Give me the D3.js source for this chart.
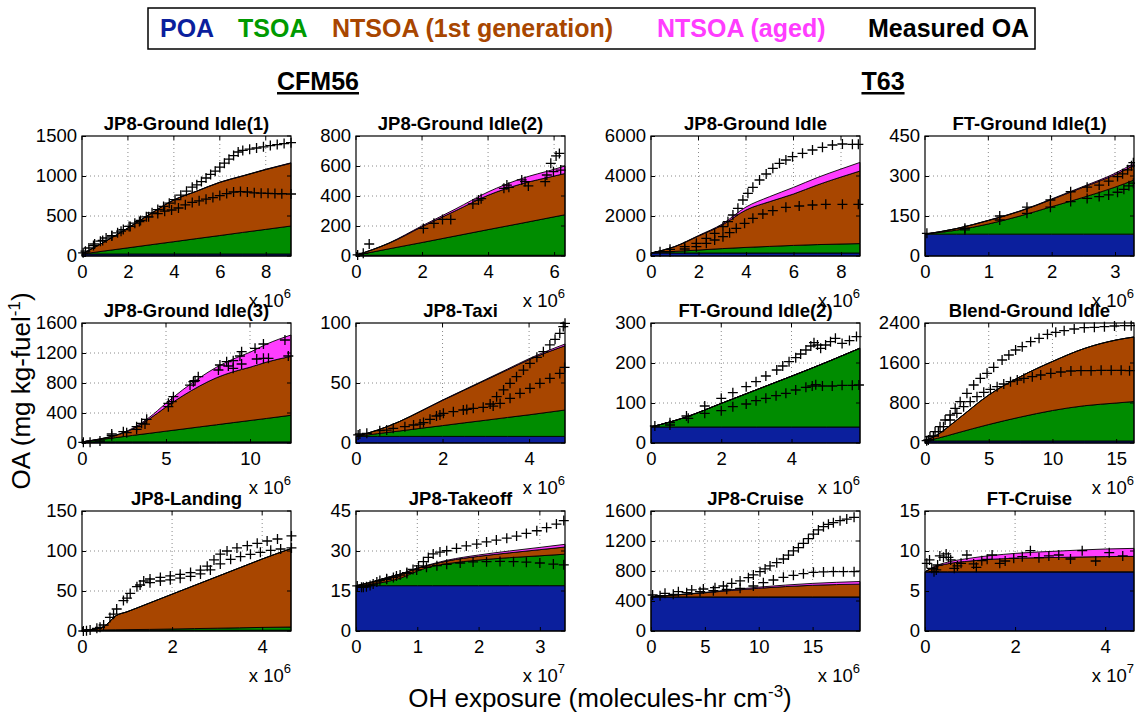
<!DOCTYPE html>
<html><head><meta charset="utf-8">
<script src="https://cdn.jsdelivr.net/npm/d3@7"></script>
<style>body{margin:0;background:#fff} svg{display:block} text{font-family:"Liberation Sans",Arial,Helvetica,sans-serif}</style>
</head><body><svg id="c" width="1135" height="713"></svg>
<script>
// ---------- panel meta ----------
const titles = ["JP8-Ground Idle(1)","JP8-Ground Idle(2)","JP8-Ground Idle","FT-Ground Idle(1)",
  "JP8-Ground Idle(3)","JP8-Taxi","FT-Ground Idle(2)","Blend-Ground Idle",
  "JP8-Landing","JP8-Takeoff","JP8-Cruise","FT-Cruise"];
const xMax = [9.1,6.33,8.8,3.3, 12.44,4.83,5.95,16.4, 4.64,3.41,19.4,4.64];
const xExp = [6,6,6,6, 6,6,6,6, 6,7,6,7];
const xTicks = [[0,2,4,6,8],[0,2,4,6],[0,2,4,6,8],[0,1,2,3],
  [0,5,10],[0,2,4],[0,2,4],[0,5,10,15],
  [0,2,4],[0,1,2,3],[0,5,10,15],[0,2,4]];
const yTicks = [[0,500,1000,1500],[0,200,400,600,800],[0,2000,4000,6000],[0,150,300,450],
  [0,400,800,1200,1600],[0,50,100],[0,100,200,300],[0,800,1600,2400],
  [0,50,100,150],[0,15,30,45],[0,400,800,1200,1600],[0,5,10,15]];
const legendLabels = ["POA","TSOA","NTSOA (1st generation)","NTSOA (aged)","Measured OA"];
const groupLabels = ["CFM56","T63"];

// ---------- modelled layers (thickness of each layer) ----------
const layerX = [
  [0,1,2,3,4,5,6,7,8,9.1],
  [0,1,2,3,4,5,6,6.33],
  [0,1,2,3,4,5,6,7,8,8.8],
  [0,0.5,1,1.5,2,2.5,3,3.3],
  [0,1,2,3,4,5,6,7,8,9,10,11,12.44],
  [0,0.5,1,1.5,2,2.5,3,3.5,4,4.83],
  [0,1,2,3,4,5,5.95],
  [0,1,2.5,5,7.5,10,12.5,15,16.4],
  [0,0.25,0.5,0.75,1,1.5,2,2.5,3,3.5,4,4.64],
  [0,0.25,0.5,0.75,1,1.25,1.5,2,2.5,3,3.41],
  [0,5,10,15,19.4],
  [0,0.2,0.5,1,2,3,4,4.64]];
const poa = [
  [25,25,25,25,25,25,25,25,25,25],
  [5,5,5,5,5,5,5,5],
  [150,150,150,150,150,150,150,150,150,150],
  [82,82,82,82,82,82,82,82],
  [15,15,15,15,15,15,15,15,15,15,15,15,15],
  [5.5,5.5,5.5,5.5,5.5,5.5,5.5,5.5,5.5,5.5],
  [40,40,40,40,40,40,40],
  [40,40,40,40,40,40,40,40,40],
  [1,1,1,1,1,1,1,1,1,1,1,1],
  [17,17,17,17,17,17,17,17,17,17,17],
  [455,455,455,455,455],
  [7.4,7.4,7.4,7.4,7.4,7.4,7.4,7.4]];
const tsoa = [
  [0,39,77,116,154,193,231,270,308,350],
  [0,43,85,128,171,213,256,270],
  [0,80,150,220,280,330,380,420,450,470],
  [0,15,38,68,103,138,176,203],
  [0,29,57,86,114,143,171,200,228,257,285,313,355],
  [0,2.3,4.5,6.8,9,11.3,13.5,15.8,18,22],
  [0,25,59,93,127,162,197],
  [0,55,160,330,480,610,705,760,790],
  [0,0.1,0.3,0.5,0.7,1,1.5,2,2.5,3,3.5,4],
  [0,0.5,1.5,3,5.5,7.3,8.3,9.6,10.5,11.2,11.8],
  [0,0,0,0,0],
  [0,0,0,0,0,0,0,0]];
const ntsoa1 = [
  [0,116,248,389,521,592,664,705,747,785],
  [0,37,105,167,229,262,272,275],
  [0,237,700,1180,1870,2240,2570,2980,3350,3630],
  [0,6,13,18,27,38,47,55],
  [0,6,28,84,191,322,444,545,627,678,710,752,785],
  [0,3,7.8,14.2,21,27.2,33.5,39.7,46,53.5],
  [0,0,0,0,0,0,0],
  [0,75,260,590,810,980,1145,1260,1290],
  [0,0.9,4.7,17.5,22.3,33,43.5,54,64.5,75,85.5,98],
  [0,0.8,1.5,1.5,1,0.7,1,1.4,1.8,2.3,2.7],
  [0,55,115,155,170],
  [0,0.56,1.0,1.35,1.7,1.8,1.9,1.93]];
const ntsoaAged = [
  [0,0,1,1,2,2,3,3,4,5],
  [0,2,6,12,22,35,45,50],
  [0,10,25,50,150,250,330,370,400,430],
  [0,0,1,1,2,3,5,8],
  [0,2,5,10,20,50,80,110,140,170,200,240,285],
  [0,0,0,0.2,0.3,0.4,0.5,0.6,0.8,1.5],
  [0,0,0,0,0,0,0],
  [0,0,0,0,0,0,0,0,0],
  [0,0,0,0,0,0,0,0,0,0,0,0],
  [0,0,0,0.05,0.1,0.2,0.3,0.5,0.7,0.85,1.0],
  [0,5,15,25,35],
  [0,0.1,0.2,0.35,0.6,0.8,0.95,1.0]];

// ---------- measured OA (two series per panel) ----------
const measHi = [
  [[0.05,40],[0.3,100],[0.55,150],[0.8,185],[1.05,225],[1.3,255],[1.55,290],[1.8,330],[2.05,370],[2.3,410],[2.55,445],[2.8,490],[3.05,540],[3.3,580],[3.55,620],[3.8,660],[4.05,705],[4.3,760],[4.55,810],[4.8,860],[5.0,890],[5.2,930],[5.4,975],[5.6,1020],[5.8,1060],[6.0,1110],[6.2,1160],[6.4,1210],[6.6,1255],[6.8,1300],[7.0,1320],[7.3,1335],[7.6,1350],[7.9,1365],[8.2,1380],[8.5,1393],[8.8,1405],[9.1,1417]],
  [[0.05,7],[0.4,80],[2.04,184],[2.36,218],[2.62,244],[3.54,347],[3.79,382],[4.48,451],[4.57,473],[5.02,507],[5.78,540],[5.9,618],[6.06,667],[6.16,684]],
  [[0.38,217],[0.8,333],[1.42,467],[1.91,633],[2.33,883],[2.68,1133],[3.03,1467],[3.24,1717],[3.45,2050],[3.66,2383],[3.87,2800],[4.08,3133],[4.29,3433],[4.57,3800],[4.85,4100],[5.13,4383],[5.41,4633],[5.68,4800],[5.96,4967],[6.38,5133],[6.8,5300],[7.22,5433],[7.64,5550],[8.06,5600],[8.48,5583],[8.73,5583]],
  [[0.03,85],[0.63,104],[1.18,150],[1.61,183],[1.98,210],[2.3,241],[2.56,258],[2.75,266],[2.9,281],[3.04,298],[3.12,308],[3.2,323],[3.26,338],[3.29,350]],
  [[0.08,9],[1.07,27],[1.77,120],[2.46,151],[3.25,218],[3.55,262],[3.85,316],[5.14,529],[5.44,618],[6.63,818],[6.92,884],[8.21,1040],[8.61,1084],[9.0,1098],[9.4,1160],[9.5,1218],[10.3,1262],[10.8,1320],[12.08,1373]],
  [[0.09,7.5],[0.71,10.8],[1.48,15.8],[1.94,23.3],[2.56,28],[3.1,32.5],[3.25,38.6],[3.41,44.2],[3.56,49.7],[3.71,55.3],[3.87,60.8],[4.02,66.4],[4.18,71.4],[4.33,76.1],[4.48,81.7],[4.6,86.4],[4.71,91.4],[4.79,97],[4.83,99.7]],
  [[0.11,42.5],[0.54,50.8],[1.01,67.5],[1.53,92.5],[2.0,111.7],[2.33,125.8],[2.71,140.8],[2.99,153.3],[3.27,167.5],[3.58,182.5],[3.75,192.5],[3.93,203.3],[4.12,213.3],[4.26,222.5],[4.41,232.5],[4.55,242.5],[4.64,250.8],[4.74,245],[4.83,236.7],[4.97,245],[5.11,253.3],[5.25,261.7],[5.44,249],[5.65,256],[5.85,266]],
  [[0.13,47],[0.39,127],[0.79,227],[1.18,327],[1.58,460],[1.97,560],[2.37,693],[2.76,827],[3.29,993],[3.82,1160],[4.34,1293],[4.87,1393],[5.39,1513],[6.05,1660],[6.58,1760],[7.11,1860],[7.63,1927],[8.29,2027],[8.95,2093],[9.61,2173],[10.26,2213],[10.92,2247],[11.71,2280],[12.5,2307],[13.29,2313],[14.08,2327],[14.87,2340],[15.66,2347],[16.18,2347]],
  [[0.03,0],[0.18,1.3],[0.33,3.3],[0.48,7.5],[0.62,17],[0.77,27.5],[0.92,38],[1.07,47],[1.22,55.4],[1.37,62.5],[1.51,65],[1.74,67],[1.96,68.8],[2.18,70.8],[2.41,73],[2.63,76],[2.78,81],[2.93,88.8],[3.07,96],[3.22,100],[3.44,103.8],[3.67,106.7],[3.89,109.6],[4.11,112.5],[4.34,115],[4.65,118.8]],
  [[0.02,16.9],[0.09,16.4],[0.17,16.6],[0.28,17.6],[0.39,18.9],[0.5,19.4],[0.61,20.1],[0.72,21],[0.83,21.9],[0.93,23.1],[1.02,24.4],[1.1,26],[1.18,27.6],[1.26,28.9],[1.37,29.6],[1.48,30.1],[1.64,31],[1.8,31.9],[1.97,32.6],[2.13,33.4],[2.29,34.1],[2.46,34.8],[2.62,35.6],[2.78,36.6],[2.95,37.6],[3.11,38.8],[3.27,40.1],[3.39,41.4]],
  [[0.15,480],[1.3,502],[2.54,524],[3.78,547],[4.86,560],[5.94,578],[6.72,600],[7.49,636],[8.27,667],[9.04,711],[9.5,747],[10.12,791],[10.59,827],[11.05,867],[11.67,911],[12.29,960],[12.76,1013],[13.22,1067],[13.68,1111],[14.15,1169],[14.61,1231],[15.08,1293],[15.54,1347],[16.01,1391],[16.47,1422],[16.93,1444],[17.55,1471],[18.17,1493],[18.85,1516]],
  [[0.04,8.46],[0.15,7.83],[0.25,7.63],[0.33,9.38],[0.47,9.63],[0.57,8.88],[0.72,8.13],[0.93,9.5],[1.14,7.96],[1.38,8.96],[1.66,8.46],[1.97,9.08],[2.34,10.04],[2.75,9.38],[3.23,9.0],[3.79,8.75],[4.39,9.38]]];
const measLo = [
  [[0.15,60],[0.5,130],[0.9,195],[1.3,250],[1.7,310],[2.1,370],[2.5,430],[2.9,490],[3.3,530],[3.6,560],[3.9,575],[4.2,600],[4.5,640],[4.8,670],[5.1,690],[5.4,710],[5.7,730],[6.0,755],[6.3,780],[6.6,800],[6.9,805],[7.2,800],[7.5,790],[7.8,785],[8.1,783],[8.4,780],[8.7,778],[9.1,775]],
  [[0.22,18],[2.87,244],[3.71,373],[4.63,458],[5.12,496],[5.22,467],[5.73,496],[5.98,562],[6.2,573]],
  [[0.8,217],[1.42,350],[1.91,467],[2.33,633],[2.68,800],[3.03,967],[3.31,1167],[3.59,1383],[3.94,1633],[4.29,1883],[4.71,2100],[5.13,2267],[5.68,2433],[6.24,2500],[6.8,2550],[7.36,2583],[8.06,2583],[8.73,2583]],
  [[0.63,98],[1.18,135],[1.61,160],[1.98,183],[2.3,204],[2.56,216],[2.75,223],[2.9,229],[3.04,239],[3.14,250],[3.22,263],[3.29,273]],
  [[0.48,9],[1.77,98],[2.66,138],[3.25,182],[3.75,253],[5.14,484],[5.34,551],[6.43,773],[6.73,831],[8.12,973],[8.71,1027],[9.0,996],[9.5,1053],[10.4,1120],[10.8,1129],[11.1,1129],[12.28,1160]],
  [[0.05,6.7],[0.25,8.1],[0.55,10.3],[0.86,12.2],[1.13,13.6],[1.33,15],[1.56,17],[1.71,19.7],[1.86,22.5],[2.02,24.7],[2.25,26.1],[2.48,27.5],[2.71,28.9],[2.94,29.7],[3.17,30.8],[3.33,33],[3.56,37.2],[3.79,41.4],[4.02,45.6],[4.25,49.7],[4.48,53.9],[4.71,58],[4.82,63]],
  [[0.54,45],[1.06,61.7],[1.53,74.2],[2.0,80.8],[2.33,90.8],[2.71,97.5],[2.99,105.8],[3.27,111.7],[3.56,118.3],[3.84,124.2],[4.12,132.5],[4.41,139.2],[4.59,142.5],[4.69,145.8],[4.88,142.5],[5.16,142.5],[5.44,144.2],[5.73,144.2],[5.92,145]],
  [[0.26,60],[0.66,140],[1.05,227],[1.45,327],[1.97,460],[2.5,593],[3.03,727],[3.55,827],[4.08,927],[4.61,1013],[5.13,1073],[5.66,1127],[6.18,1180],[6.71,1227],[7.24,1260],[7.76,1293],[8.42,1327],[9.08,1360],[9.87,1393],[10.66,1420],[11.45,1440],[12.24,1447],[13.03,1447],[13.82,1453],[14.61,1453],[15.39,1453],[16.05,1447]],
  [[0.1,0.4],[0.4,4.6],[0.7,21],[1.0,41],[1.29,57.5],[1.51,60.4],[1.74,62.5],[1.96,64],[2.18,66],[2.41,68.3],[2.63,71.3],[2.85,76.3],[3.07,83.8],[3.3,89.6],[3.52,93],[3.74,95.8],[3.96,98.3],[4.19,100.8],[4.41,102.5],[4.65,103.8]],
  [[0.12,16.4],[0.23,17.1],[0.34,18.4],[0.5,19.6],[0.66,20.6],[0.83,21.6],[0.99,22.9],[1.15,23.9],[1.32,24.5],[1.48,25],[1.7,25.5],[1.91,25.9],[2.13,26],[2.35,26.1],[2.57,26],[2.78,25.8],[3.0,25.5],[3.22,25.1],[3.39,24.8]],
  [[0.84,471],[2.07,489],[3.31,511],[4.55,524],[5.79,538],[7.03,556],[8.27,569],[9.5,600],[10.43,644],[11.36,680],[12.29,716],[13.22,742],[14.15,764],[15.08,782],[16.01,787],[16.93,791],[17.86,791],[18.85,791]],
  [[0.1,8.88],[0.2,7.42],[0.28,8.25],[0.41,9.21],[0.52,9.21],[0.65,7.83],[0.8,8.46],[1.08,8.38],[1.26,8.79],[1.49,9.5],[1.78,8.75],[2.16,9.29],[2.53,9.17],[2.97,9.5],[3.49,10.04],[4.09,9.79]]];

// ---------- drawing ----------
const colors = {poa:"#0b1f9d", tsoa:"#008c00", n1:"#a84600", aged:"#ff3dff"};
const legendColors = ["#0b1f9d","#009a00","#a84600","#ff3dff","#000000"];
const svg = d3.select("#c");
const lefts = [82,356,651,925], tops = [136,323,511], W = 209, H = 120;
const FONT = 18.5;

titles.forEach((t,i)=>{
  const col = i%4, row = Math.floor(i/4);
  const g = svg.append("g").attr("transform",`translate(${lefts[col]},${tops[row]})`);
  const yMax = yTicks[i][yTicks[i].length-1];
  const x = d3.scaleLinear().domain([0,xMax[i]]).range([0,W]);
  const y = d3.scaleLinear().domain([0,yMax]).range([H,0]);

  // grid
  xTicks[i].filter(v=>v>0 && v<xMax[i]).forEach(v=>{
    g.append("line").attr("x1",x(v)).attr("x2",x(v)).attr("y1",0).attr("y2",H)
      .attr("stroke","#8a8a8a").attr("stroke-width",1).attr("stroke-dasharray","1,3");
  });
  yTicks[i].filter(v=>v>0 && v<yMax).forEach(v=>{
    g.append("line").attr("x1",0).attr("x2",W).attr("y1",y(v)).attr("y2",y(v))
      .attr("stroke","#8a8a8a").attr("stroke-width",1).attr("stroke-dasharray","1,3");
  });

  // stacked areas
  const rows = layerX[i].map((xv,j)=>({x:xv, poa:poa[i][j], tsoa:tsoa[i][j], n1:ntsoa1[i][j], aged:ntsoaAged[i][j]}));
  const series = d3.stack().keys(["poa","tsoa","n1","aged"])(rows);
  const area = d3.area().curve(d3.curveMonotoneX)
    .x(d=>x(d.data.x)).y0(d=>y(d[0])).y1(d=>y(d[1]));
  series.forEach(s=>{
    g.append("path").datum(s).attr("d",area)
      .attr("fill",colors[s.key]).attr("stroke","#000").attr("stroke-width",0.9);
  });

  // box
  g.append("rect").attr("width",W).attr("height",H).attr("fill","none").attr("stroke","#000").attr("stroke-width",1.2);

  // axes
  const ax = d3.axisBottom(x).tickValues(xTicks[i]).tickFormat(d3.format("d")).tickSizeInner(-4).tickSizeOuter(0).tickPadding(9);
  const ay = d3.axisLeft(y).tickValues(yTicks[i]).tickFormat(d3.format("d")).tickSizeInner(-4).tickSizeOuter(0).tickPadding(5);
  const gx = g.append("g").attr("transform",`translate(0,${H})`).call(ax);
  const gy = g.append("g").call(ay);
  [gx,gy].forEach(a=>{
    a.select(".domain").remove();
    a.selectAll("text").attr("font-size",FONT).attr("fill","#000")
      .attr("font-family","'Liberation Sans',Arial,sans-serif");
    a.selectAll("line").attr("stroke","#000");
  });
  // mirrored ticks on top / right
  xTicks[i].forEach(v=>g.append("line").attr("x1",x(v)).attr("x2",x(v)).attr("y1",0).attr("y2",4).attr("stroke","#000"));
  yTicks[i].forEach(v=>g.append("line").attr("x1",W).attr("x2",W-4).attr("y1",y(v)).attr("y2",y(v)).attr("stroke","#000"));

  // measured markers
  const plus = "M-5,0H5M0,-5V5";
  [measHi[i],measLo[i]].forEach(ser=>{
    g.selectAll(null).data(ser).enter().append("path")
      .attr("d",plus).attr("transform",d=>`translate(${x(d[0])},${y(d[1])})`)
      .attr("stroke","#000").attr("stroke-width",1.3).attr("fill","none");
  });

  // title
  g.append("text").attr("x",W/2).attr("y",-6).attr("text-anchor","middle")
    .attr("font-size",FONT).attr("font-weight","bold").text(t);

  // exponent label
  const ex = g.append("text").attr("x",W).attr("y",H+51).attr("text-anchor","end").attr("font-size",FONT);
  ex.append("tspan").text("x 10");
  ex.append("tspan").attr("dy",-9).attr("font-size",13).text(xExp[i]);
});

// legend
svg.append("rect").attr("x",148).attr("y",8).attr("width",887).attr("height",41)
  .attr("fill","#fff").attr("stroke","#000").attr("stroke-width",1.5);
const legendX = [160,238,332,657,868];
legendLabels.forEach((l,k)=>{
  svg.append("text").attr("x",legendX[k]).attr("y",37).attr("font-size",25).attr("font-weight","bold")
    .attr("fill",legendColors[k]).text(l);
});

// group headers
[[318,groupLabels[0]],[883,groupLabels[1]]].forEach(([cx,l])=>{
  svg.append("text").attr("x",cx).attr("y",90).attr("text-anchor","middle").attr("font-size",25)
    .attr("font-weight","bold").style("text-decoration","underline").text(l);
});

// axis labels
const xl = svg.append("text").attr("x",600).attr("y",707).attr("text-anchor","middle").attr("font-size",26);
xl.append("tspan").text("OH exposure (molecules-hr cm");
xl.append("tspan").attr("dy",-10).attr("font-size",17).text("-3");
xl.append("tspan").attr("dy",10).text(")");
const yl = svg.append("text").attr("transform","translate(30,391) rotate(-90)").attr("text-anchor","middle").attr("font-size",26);
yl.append("tspan").text("OA (mg kg-fuel");
yl.append("tspan").attr("dy",-10).attr("font-size",17).text("-1");
yl.append("tspan").attr("dy",10).text(")");
</script></body></html>
